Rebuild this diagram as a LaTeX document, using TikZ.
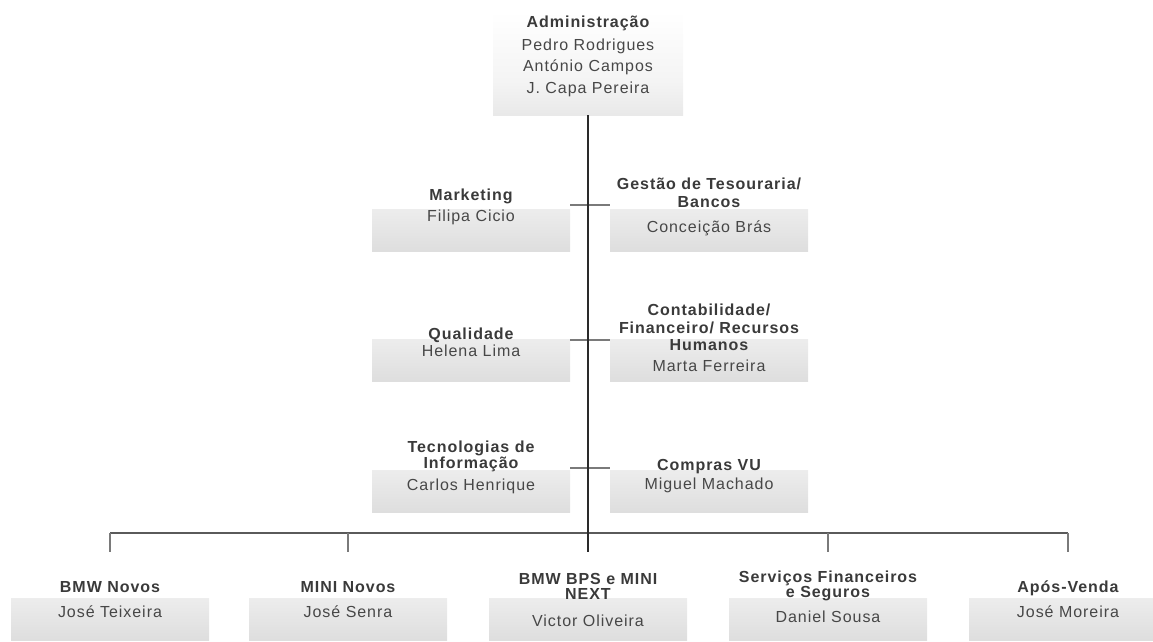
\documentclass[tikz,border=0pt]{standalone}
\usepackage{fontspec}
\setmainfont{Liberation Sans}[LetterSpace=6]
\usetikzlibrary{calc}
\definecolor{shadetop}{HTML}{F4F4F4}
\definecolor{shadebot}{HTML}{D6D6D6}
\definecolor{titlec}{HTML}{3A3A3A}
\definecolor{namec}{HTML}{474747}
\definecolor{trunkc}{HTML}{2A2A2A}
\definecolor{linkc}{HTML}{7A7A7A}
\definecolor{busc}{HTML}{5A5A5A}
\pgfdeclareverticalshading{bandshade}{100bp}{color(0bp)=(shadebot); color(100bp)=(shadetop)}
\pgfdeclareverticalshading{topshade}{100bp}{color(0bp)=(shadebot); color(40bp)=(shadetop); color(70bp)=(white); color(100bp)=(white)}
\begin{document}
\begin{tikzpicture}[x=1pt,y=-1pt,
  box/.style={shade, shading=bandshade, inner sep=0pt, minimum width=198pt, minimum height=42pt, anchor=south},
  topbox/.style={shade, shading=topshade, inner sep=0pt, minimum width=190pt, minimum height=115pt, anchor=north},
  ttl/.style={font=\bfseries\fontsize{16}{16}\selectfont, text=titlec, anchor=base, inner sep=0pt},
  nm/.style={font=\fontsize{16}{16}\selectfont, text=namec, anchor=base, inner sep=0pt},
  trunk/.style={draw=trunkc, line width=1.6pt},
  link/.style={draw=linkc, line width=1.2pt},
  busline/.style={draw=busc, line width=1.4pt}]
\useasboundingbox (0,0) rectangle (1153,641);
% boxes
\node[topbox] (adm) at (588,0) {};
\node[box] (mk) at (471,252) {};
\node[box] (gt) at (709,252) {};
\node[box] (ql) at (471,382) {};
\node[box] (cf) at (709,382) {};
\node[box] (ti) at (471,513) {};
\node[box] (cv) at (709,513) {};
\node[box] (b1) at (110,641) {};
\node[box] (b2) at (348,641) {};
\node[box] (b3) at (588,641) {};
\node[box] (b4) at (828,641) {};
\node[box] (b5) at (1068,641) {};
% helper coordinates
\coordinate (r1) at (588,205);
\coordinate (r2) at (588,340);
\coordinate (r3) at (588,468);
\coordinate (bus) at (588,533);
\coordinate (dropend) at (588,552);
% connectors
\draw[link] (mk.east |- r1) -- (gt.west |- r1);
\draw[link] (ql.east |- r2) -- (cf.west |- r2);
\draw[link] (ti.east |- r3) -- (cv.west |- r3);
\draw[busline] (b1.north |- bus) -- (b5.north |- bus);
\draw[link] (b1.north |- bus) -- (b1.north |- dropend);
\draw[link] (b2.north |- bus) -- (b2.north |- dropend);
\draw[link] (b4.north |- bus) -- (b4.north |- dropend);
\draw[link] (b5.north |- bus) -- (b5.north |- dropend);
\draw[trunk] (adm.south) -- (adm.south |- dropend);
% texts
\node[ttl] (t-adm) at (588,27) {Administração};
\node[nm] (n-adm1) at (588,50) {Pedro Rodrigues};
\node[nm] (n-adm2) at (588,71) {António Campos};
\node[nm] (n-adm3) at (588,93) {J. Capa Pereira};
\node[ttl] (t-mk) at (471,200) {Marketing};
\node[nm] (n-mk) at (471,221) {Filipa Cicio};
\node[ttl] (t-gt1) at (709,189) {Gestão de Tesouraria/};
\node[ttl] (t-gt2) at (709,207) {Bancos};
\node[nm] (n-gt) at (709,232) {Conceição Brás};
\node[ttl] (t-ql) at (471,339) {Qualidade};
\node[nm] (n-ql) at (471,356) {Helena Lima};
\node[ttl] (t-cf1) at (709,315) {Contabilidade/};
\node[ttl] (t-cf2) at (709,333) {Financeiro/ Recursos};
\node[ttl] (t-cf3) at (709,350) {Humanos};
\node[nm] (n-cf) at (709,371) {Marta Ferreira};
\node[ttl] (t-ti1) at (471,452) {Tecnologias de};
\node[ttl] (t-ti2) at (471,468) {Informação};
\node[nm] (n-ti) at (471,490) {Carlos Henrique};
\node[ttl] (t-cv) at (709,470) {Compras VU};
\node[nm] (n-cv) at (709,489) {Miguel Machado};
\node[ttl] (t-b1) at (110,592) {BMW Novos};
\node[nm] (n-b1) at (110,617) {José Teixeira};
\node[ttl] (t-b2) at (348,592) {MINI Novos};
\node[nm] (n-b2) at (348,617) {José Senra};
\node[ttl] (t-b3a) at (588,584) {BMW BPS e MINI};
\node[ttl] (t-b3b) at (588,599) {NEXT};
\node[nm] (n-b3) at (588,626) {Victor Oliveira};
\node[ttl] (t-b4a) at (828,582) {Serviços Financeiros};
\node[ttl] (t-b4b) at (828,597) {e Seguros};
\node[nm] (n-b4) at (828,622) {Daniel Sousa};
\node[ttl] (t-b5) at (1068,592) {Após-Venda};
\node[nm] (n-b5) at (1068,617) {José Moreira};
\end{tikzpicture}
\end{document}
